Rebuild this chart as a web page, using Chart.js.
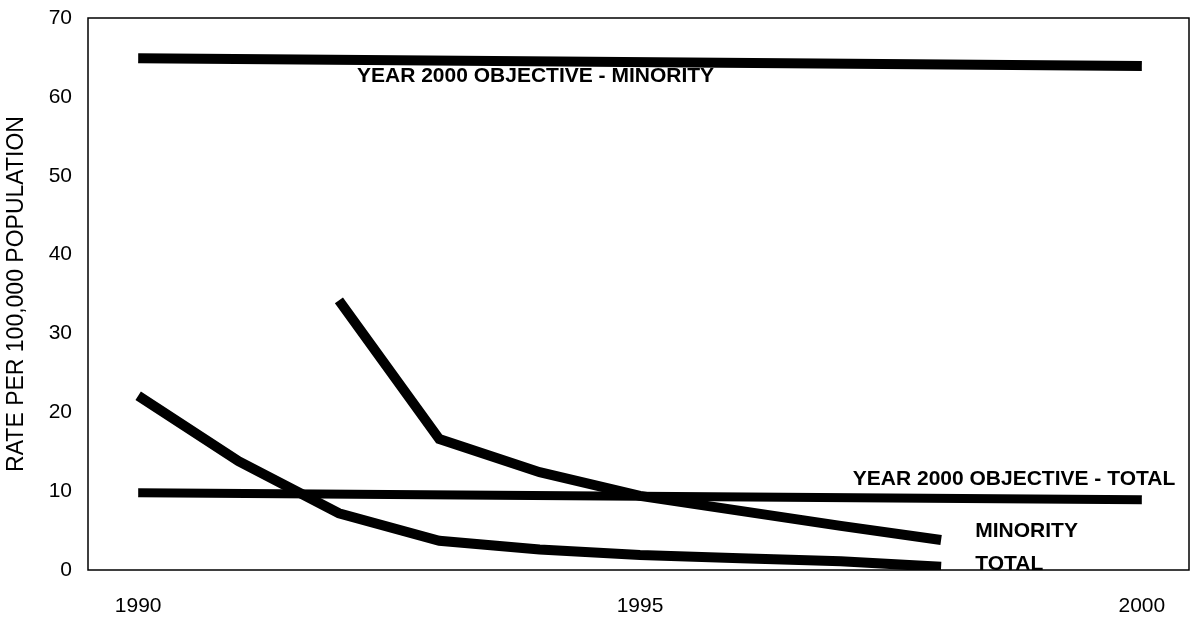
<!DOCTYPE html>
<html>
<head>
<meta charset="utf-8">
<script src="https://cdn.jsdelivr.net/npm/chart.js@4"></script>
<style>
  html, body { margin: 0; padding: 0; background: #fff; }
  #wrap { width: 1197px; height: 622px; }
</style>
</head>
<body>
<div id="wrap"><canvas id="chart" width="1197" height="622"></canvas></div>
<script>
// values
const years = [1990, 1991, 1992, 1993, 1994, 1995, 1996, 1997, 1998, 1999, 2000];
const total = [22.1, 13.8, 7.2, 3.7, 2.6, 1.9, 1.5, 1.1, 0.4, null, null];
const minority = [null, null, 34.2, 16.6, 12.4, 9.4, 7.5, 5.6, 3.8, null, null];
const objectiveTotal = [9.8, null, null, null, null, null, null, null, null, null, 8.9];
const objectiveMinority = [64.9, null, null, null, null, null, null, null, null, null, 63.9];
const xTicks = [1990, 1995, 2000];

// text labels placed in data units
const notes = [
  { text: "YEAR 2000 OBJECTIVE - MINORITY", x: 1992.18, y: 62.6 },
  { text: "YEAR 2000 OBJECTIVE - TOTAL", x: 1997.12, y: 11.5 },
  { text: "MINORITY", x: 1998.34, y: 4.9 },
  { text: "TOTAL", x: 1998.34, y: 0.7 }
];

function points(values) {
  let out = [];
  values.forEach(function (v, i) {
    if (v !== null) out.push({ x: years[i], y: v });
  });
  return out;
}

function series(values, width) {
  return {
    data: points(values),
    borderColor: "#000",
    borderWidth: width,
    borderCapStyle: "butt",
    borderJoinStyle: "miter",
    pointRadius: 0,
    fill: false,
    tension: 0
  };
}

const boxPlugin = {
  id: "box",
  afterDraw(chart) {
    const a = chart.chartArea;
    const ctx = chart.ctx;
    ctx.save();
    ctx.strokeStyle = "#000";
    ctx.lineWidth = 1.5;
    ctx.strokeRect(a.left, a.top, a.right - a.left, a.bottom - a.top);
    ctx.restore();
  }
};

const notesPlugin = {
  id: "notes",
  afterDatasetsDraw(chart) {
    const ctx = chart.ctx;
    const xs = chart.scales.x;
    const ys = chart.scales.y;
    ctx.save();
    ctx.fillStyle = "#000";
    ctx.font = "bold 21px 'Liberation Sans', Arial, sans-serif";
    ctx.textAlign = "left";
    ctx.textBaseline = "middle";
    notes.forEach(function (n) {
      ctx.fillText(n.text, xs.getPixelForValue(n.x), ys.getPixelForValue(n.y));
    });
    ctx.restore();
  }
};

function init() {
  const ctx = document.getElementById("chart");
  new Chart(ctx, {
    type: "line",
    data: {
      datasets: [
        series(objectiveMinority, 10),
        series(objectiveTotal, 9),
        series(minority, 10),
        series(total, 10)
      ]
    },
    options: {
      responsive: false,
      animation: false,
      layout: { padding: { top: 18, right: 8, left: 0, bottom: 0 } },
      plugins: { legend: { display: false }, tooltip: { enabled: false } },
      scales: {
        x: {
          type: "linear",
          min: 1989.5,
          max: 2000.47,
          grid: { display: false, drawTicks: false },
          border: { display: false },
          afterBuildTicks: function (scale) {
            scale.ticks = xTicks.map(function (v) { return { value: v }; });
          },
          afterFit: function (scale) {
            scale.height = 52;
            scale.paddingLeft = 0;
            scale.paddingRight = 0;
          },
          ticks: {
            color: "#000",
            padding: 24,
            maxRotation: 0,
            font: { family: "'Liberation Sans', Arial, sans-serif", size: 21 },
            callback: function (v) { return String(v); }
          }
        },
        y: {
          min: 0,
          max: 70,
          grid: { display: false, drawTicks: false },
          border: { display: false },
          afterFit: function (scale) {
            scale.width = 88;
            scale.paddingTop = 0;
            scale.paddingBottom = 0;
          },
          ticks: {
            stepSize: 10,
            color: "#000",
            padding: 16,
            font: { family: "'Liberation Sans', Arial, sans-serif", size: 21 }
          },
          title: {
            display: true,
            text: "RATE PER 100,000 POPULATION",
            color: "#000",
            padding: { top: 3, bottom: 0 },
            font: { family: "'Liberation Sans', Arial, sans-serif", size: 23 }
          }
        }
      }
    },
    plugins: [boxPlugin, notesPlugin]
  });
}

window.onload = init;
</script>
</body>
</html>
